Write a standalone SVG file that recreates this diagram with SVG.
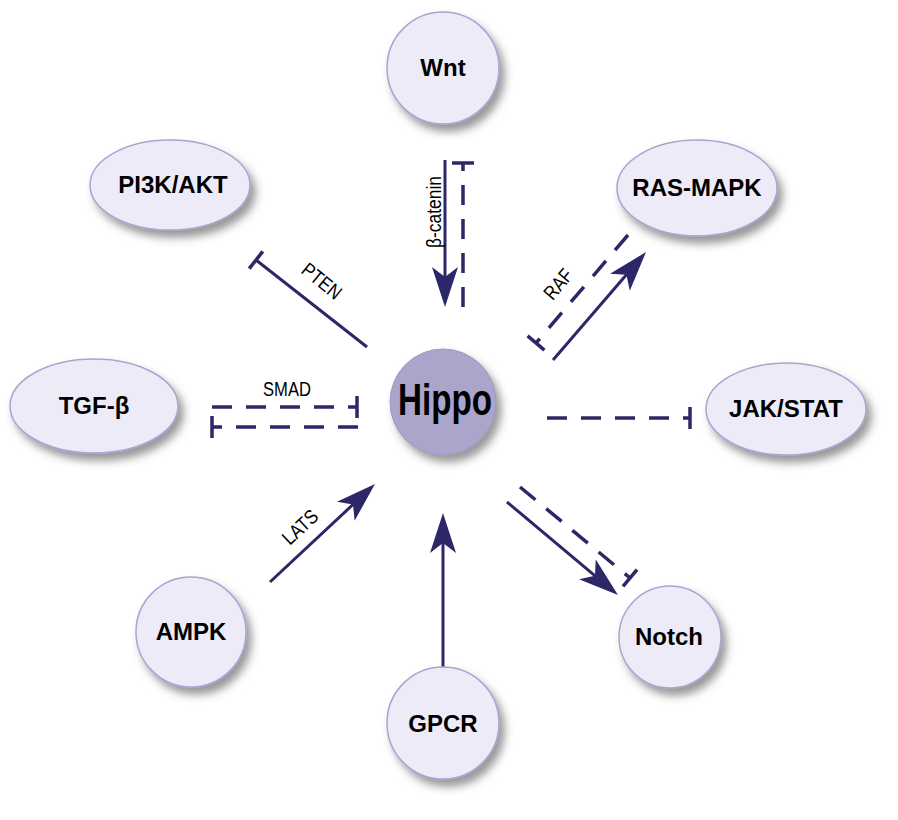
<svg xmlns="http://www.w3.org/2000/svg" width="898" height="820" viewBox="0 0 898 820">
<style>
.node{fill:#ecebf7;stroke:#a9a4d0;stroke-width:1.5;filter:url(#sh)}
.hub{fill:#aba5cb;stroke:#9e98c4;stroke-width:1;filter:url(#sh)}
.lbl{font-family:"Liberation Sans",Arial,sans-serif;font-weight:bold;font-size:24px;fill:#000;text-anchor:middle}
.hip{font-family:"Liberation Sans",Arial,sans-serif;font-weight:bold;font-size:45px;fill:#000;text-anchor:middle}
.edge{font-family:"Liberation Sans",Arial,sans-serif;font-size:20px;fill:#000;text-anchor:middle}
.solid{stroke:#2c2767;stroke-width:3;fill:none}
.dash{stroke:#2c2767;stroke-width:3.5;fill:none;stroke-dasharray:20 14}
.act{marker-end:url(#arr)}
.inh{marker-end:url(#tee)}
</style>
<defs>
<filter id="sh" x="-30%" y="-30%" width="170%" height="170%">
<feDropShadow dx="5" dy="7" stdDeviation="4" flood-color="#444" flood-opacity="0.55"/>
</filter>
<marker id="arr" markerUnits="userSpaceOnUse" viewBox="0 0 40 26" refX="28" refY="13" markerWidth="40" markerHeight="26" orient="auto">
<path d="M0,0 L40,13 L0,26 L10,13 Z" fill="#2c2767"/>
</marker>
<marker id="tee" markerUnits="userSpaceOnUse" viewBox="-3 -12 6 24" refX="0" refY="0" markerWidth="6" markerHeight="24" orient="auto">
<rect x="-1.75" y="-11" width="3.5" height="22" fill="#2c2767"/>
</marker>
</defs>

<g id="connectors">
<line class="solid act" x1="445" y1="160" x2="445" y2="295"/>
<line class="dash inh" x1="463" y1="307" x2="463" y2="163"/>
<line class="solid inh" x1="367" y1="347" x2="256" y2="260"/>
<line class="solid act" x1="553" y1="360" x2="638.2" y2="261.1"/>
<line class="dash inh" x1="628" y1="235" x2="536" y2="343"/>
<line class="dash inh" x1="212" y1="407" x2="357" y2="407"/>
<line class="dash inh" x1="358" y1="427" x2="212" y2="427"/>
<line class="dash inh" x1="547" y1="418" x2="690" y2="418"/>
<line class="solid act" x1="270" y1="582" x2="366.2" y2="492.2"/>
<line class="solid act" x1="443" y1="668" x2="443" y2="525"/>
<line class="solid act" x1="507" y1="502" x2="608.8" y2="587.3"/>
<line class="dash inh" x1="520" y1="487" x2="630" y2="578"/>
<text class="edge" transform="translate(434,212) rotate(-90)" y="7" textLength="72" lengthAdjust="spacingAndGlyphs">β-catenin</text>
<text class="edge" transform="translate(322,281) rotate(39)" y="7" textLength="45" lengthAdjust="spacingAndGlyphs">PTEN</text>
<text class="edge" transform="translate(558,284) rotate(-50)" y="7" textLength="33" lengthAdjust="spacingAndGlyphs">RAF</text>
<text class="edge" x="287" y="396" textLength="48" lengthAdjust="spacingAndGlyphs">SMAD</text>
<text class="edge" transform="translate(300,527) rotate(-43)" y="7" textLength="41" lengthAdjust="spacingAndGlyphs">LATS</text>
</g>

<g id="wnt"><circle class="node" cx="443" cy="68" r="56"/><text class="lbl" x="443" y="76">Wnt</text></g>
<g id="pi3k"><ellipse class="node" cx="170" cy="185" rx="80" ry="45"/><text class="lbl" x="173" y="193">PI3K/AKT</text></g>
<g id="rasmapk"><ellipse class="node" cx="697" cy="188" rx="80" ry="48"/><text class="lbl" x="697" y="196">RAS-MAPK</text></g>
<g id="tgfb"><ellipse class="node" cx="94" cy="406" rx="84" ry="47"/><text class="lbl" x="94" y="414">TGF-β</text></g>
<g id="hippo"><circle class="hub" cx="443" cy="402" r="53"/><text class="hip" x="445" y="415" textLength="94" lengthAdjust="spacingAndGlyphs">Hippo</text></g>
<g id="jakstat"><ellipse class="node" cx="786" cy="409" rx="80" ry="46"/><text class="lbl" x="786" y="417">JAK/STAT</text></g>
<g id="ampk"><circle class="node" cx="191" cy="632" r="55"/><text class="lbl" x="191" y="640">AMPK</text></g>
<g id="gpcr"><circle class="node" cx="443" cy="723" r="56"/><text class="lbl" x="443" y="732">GPCR</text></g>
<g id="notch"><circle class="node" cx="670" cy="637" r="51"/><text class="lbl" x="669" y="645">Notch</text></g>
</svg>
